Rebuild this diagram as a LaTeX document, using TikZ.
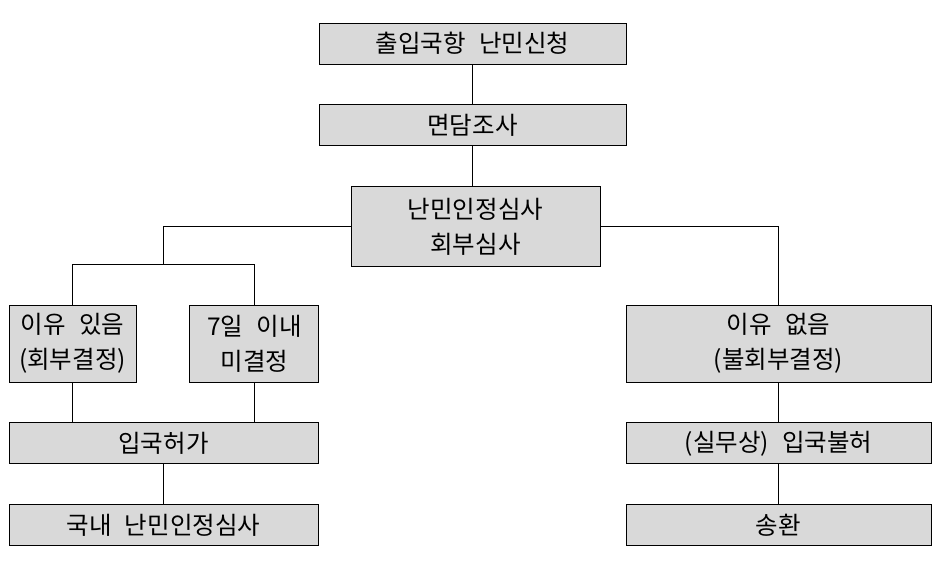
\documentclass[tikz,border=0pt]{standalone}
\usepackage{fontspec}
\setmainfont[WordSpace=2.4]{Noto Sans CJK KR}
\usepackage{xcolor}
\usepackage{tikz}
\usetikzlibrary{positioning,calc}
\definecolor{boxgray}{RGB}{217,217,217}
\tikzstyle{stage} = [rectangle, minimum width=307pt, minimum height=41pt, inner sep=0pt, text centered, align=center, draw=black, fill=boxgray, line width=0.9pt, font=\fontsize{24.5}{35}\selectfont]
\tikzstyle{link} = [line width=0.9pt]

\begin{document}
\begin{tikzpicture}[x=1pt, y=1pt, node distance=40pt]
    \useasboundingbox (0,0) rectangle (947,-563);

    % Nodes
    \node (apply) [stage] at (472.5,-43.5) {출입국항 난민신청};
    \node (interview) [stage, below=of apply] {면담조사};
    \node (screening) [stage, below=of interview, xshift=3pt, minimum width=249pt, minimum height=80pt] {난민인정심사\\회부심사};
    \node (refer) [stage, minimum width=127pt, minimum height=77pt] at (72.5,-343.5) {이유 있음\\(회부결정)};
    \node (undecided) [stage, right=53pt of refer, minimum width=129pt, minimum height=77pt] {7일 이내\\미결정};
    \node (admit) [stage, below=of refer.south west, anchor=north west, minimum width=309pt] {입국허가};
    \node (domestic) [stage, below=of admit, minimum width=309pt] {국내 난민인정심사};
    \node (notrefer) [stage, minimum width=305pt, minimum height=77pt] at (778.5,-343.5) {이유 없음\\(불회부결정)};
    \node (deny) [stage, below=of notrefer, minimum width=305pt] {(실무상) 입국불허};
    \node (sendback) [stage, below=of deny, minimum width=305pt] {송환};

    % Lines
    \coordinate (fork) at ($(refer.north)!0.5!(undecided.north)+(0,40)$);
    \draw[link] (apply) -- (interview);
    \draw[link] (interview) -- (interview |- screening.north);
    \draw[link] (screening.west) -| (fork);
    \draw[link] (refer.north) |- (fork) -| (undecided.north);
    \draw[link] (screening.east) -| (notrefer.north);
    \draw[link] (refer) -- (refer |- admit.north);
    \draw[link] (undecided) -- (undecided |- admit.north);
    \draw[link] (admit) -- (domestic);
    \draw[link] (notrefer) -- (deny);
    \draw[link] (deny) -- (sendback);

\end{tikzpicture}
\end{document}
